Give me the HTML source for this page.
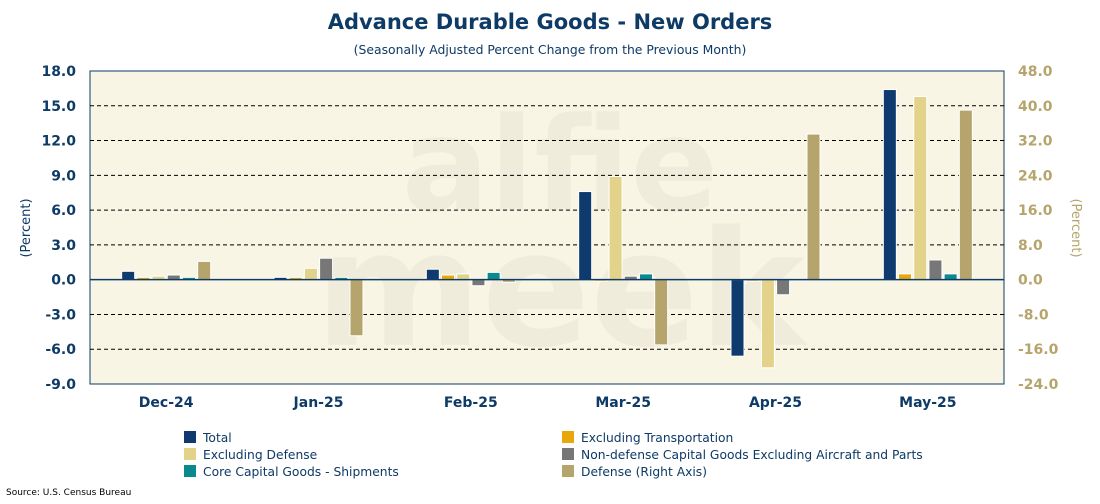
<!DOCTYPE html>
<html><head><meta charset="utf-8"><style>
body{margin:0;background:#fff;font-family:"DejaVu Sans","Liberation Sans",sans-serif;}
</style></head><body>
<svg width="1100" height="500" xmlns="http://www.w3.org/2000/svg" id="chart">
<text x="550" y="29" text-anchor="middle" font-size="21" font-weight="bold" fill="#0e3a66">Advance Durable Goods - New Orders</text>
<text x="550" y="54" text-anchor="middle" font-size="12.4" fill="#0e3a66">(Seasonally Adjusted Percent Change from the Previous Month)</text>
<rect x="90" y="71" width="914" height="313" fill="#f8f5e4" stroke="#0e3a66" stroke-width="1"/>
<g opacity="0.45">
<text x="560" y="210" text-anchor="middle" font-size="130" font-weight="bold" fill="#e6e2d2">alfie</text>
<text x="560" y="345" text-anchor="middle" font-size="160" font-weight="bold" fill="#e6e2d2">meek</text>
</g>
<g id="grid"></g><g id="bars"></g><g id="axes"></g>
<text transform="translate(30,228) rotate(-90)" text-anchor="middle" font-size="13" fill="#0e3a66">(Percent)</text>
<text transform="translate(1072,228) rotate(90)" text-anchor="middle" font-size="13" fill="#b5a46b">(Percent)</text>
<g id="legend" font-size="12.3" fill="#0e3a66"></g>
<text x="6" y="495" font-size="9" fill="#000">Source: U.S. Census Bureau</text>
</svg>
<script>
const categories=["Dec-24","Jan-25","Feb-25","Mar-25","Apr-25","May-25"];
const seriesNames=["Total","Excluding Transportation","Excluding Defense","Non-defense Capital Goods Excluding Aircraft and Parts","Core Capital Goods - Shipments","Defense (Right Axis)"];
const total=[0.72,0.2,0.9,7.6,-6.6,16.4];
const exTransp=[0.2,0.2,0.4,-0.1,-0.05,0.5];
const exDefense=[0.3,0.98,0.5,8.9,-7.6,15.8];
const nonDefCap=[0.4,1.85,-0.52,0.3,-1.3,1.7];
const coreShip=[0.2,0.2,0.63,0.5,0.05,0.5];
const defenseR=[4.2,-12.9,-0.6,-15,33.5,39];
const leftTicks=[18,15,12,9,6,3,0,-3,-6,-9];
const rightTicks=[48,40,32,24,16,8,0,-8,-16,-24];
const colors=["#0e3a6e","#e8a80c","#e3d38a","#777777","#0a8a8c","#b5a46b"];
const NS="http://www.w3.org/2000/svg";
const X0=90,X1=1004,Y0=71,Y1=384;
const yL=v=>Y1-(v-(-9))/27*(Y1-Y0);
const yR=v=>Y1-(v-(-24))/72*(Y1-Y0);
const gw=(X1-X0)/categories.length;
const xc=i=>X0+gw*(i+0.5);
function mk(t,a,p){const e=document.createElementNS(NS,t);for(const k in a)e.setAttribute(k,a[k]);p.appendChild(e);return e;}
const grid=document.getElementById('grid'),axes=document.getElementById('axes'),bars=document.getElementById('bars');
leftTicks.forEach(v=>{
 if(v!==18&&v!==-9&&v!==0){const l=mk('line',{x1:X0,x2:X1,y1:yL(v),y2:yL(v),stroke:'#000','stroke-dasharray':'4,3','stroke-width':1},grid);
 
 }
 const t=mk('text',{x:X0-14,y:yL(v)+5,'text-anchor':'end','font-size':14,'font-weight':'bold',fill:'#0e3a66'},axes);t.textContent=v.toFixed(1);
 
 
});
rightTicks.forEach(v=>{
 const t=mk('text',{x:X1+14,y:yR(v)+5,'font-size':14,'font-weight':'bold',fill:'#b5a46b'},axes);t.textContent=v.toFixed(1);
 
 
});
categories.forEach((c,i)=>{
 const t=mk('text',{x:xc(i),y:407,'text-anchor':'middle','font-size':14,'font-weight':'bold',fill:'#0e3a66'},axes);t.textContent=c;
 
 
});
const series=[total,exTransp,exDefense,nonDefCap,coreShip,defenseR];
series.forEach((s,k)=>{
 s.forEach((v,i)=>{
  const f=k===5?yR:yL;const y0=f(0),y=f(v);
  const cx=xc(i)+(k-2.5)*15.2;
  const r=mk('rect',{x:cx-6.5,y:Math.min(y,y0),width:13,height:Math.max(Math.abs(y-y0),1.5),fill:colors[k],stroke:'#fff','stroke-width':1},bars);
  
  
 });
});
const z=mk('line',{x1:X0,x2:X1,y1:yL(0),y2:yL(0),stroke:'#0e3a66','stroke-width':1.5},axes);


const lg=document.getElementById('legend');
seriesNames.forEach((n,k)=>{
 const col=k%2,row=Math.floor(k/2);
 const x=col?562:184,y=431+row*17;
 const r=mk('rect',{x:x,y:y,width:12,height:12,fill:colors[k]},lg);
 
 
 const t=mk('text',{x:x+19,y:y+11},lg);t.textContent=n;
 
 
});
</script>
</body></html>
